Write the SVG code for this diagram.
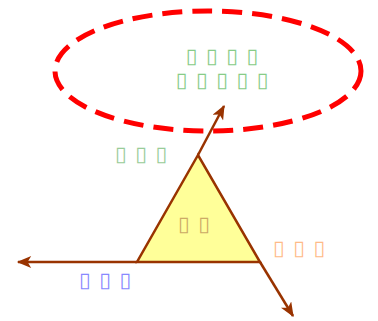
<svg xmlns="http://www.w3.org/2000/svg" width="378" height="321" viewBox="0 0 378 321">
<style>
.t{font-family:"DejaVu Sans",sans-serif;font-size:21px;word-spacing:2px;text-anchor:middle}
.c{stroke:#993300;stroke-width:2.5;fill:none}
</style>
<defs>
<marker id="ah" viewBox="0 0 12 10" refX="11" refY="5" markerWidth="17" markerHeight="12" markerUnits="userSpaceOnUse" orient="auto">
<path d="M0,0 L12,5 L0,10 L3,5 Z" fill="#993300"/>
</marker>
</defs>
<g id="ellipse">
<ellipse cx="208" cy="71" rx="153" ry="60" fill="none" stroke="#ff0000" stroke-width="5" stroke-dasharray="20,10"/>
<text class="t" x="222" y="63" fill="#88cc88">▯ ▯ ▯ ▯</text>
<text class="t" x="222" y="87" fill="#88cc88">▯ ▯ ▯ ▯ ▯</text>
</g>
<g id="connectors">
<line class="c" x1="198" y1="155" x2="224" y2="106" marker-end="url(#ah)"/>
<line class="c" x1="137" y1="262" x2="18" y2="262" marker-end="url(#ah)"/>
<line class="c" x1="260" y1="262" x2="293" y2="316" marker-end="url(#ah)"/>
</g>
<g id="triangle">
<polygon points="198,155 137,262 260,262" fill="#ffff99" stroke="#993300" stroke-width="2.5"/>
<text class="t" x="194" y="231" fill="#ccaa66">▯ ▯</text>
</g>
<g id="label-top">
<text class="t" x="141" y="161" fill="#99cc99">▯ ▯ ▯</text>
</g>
<g id="label-right">
<text class="t" x="299" y="255" fill="#ffbb88">▯ ▯ ▯</text>
</g>
<g id="label-left">
<text class="t" x="105" y="287" fill="#8888ff">▯ ▯ ▯</text>
</g>
</svg>
